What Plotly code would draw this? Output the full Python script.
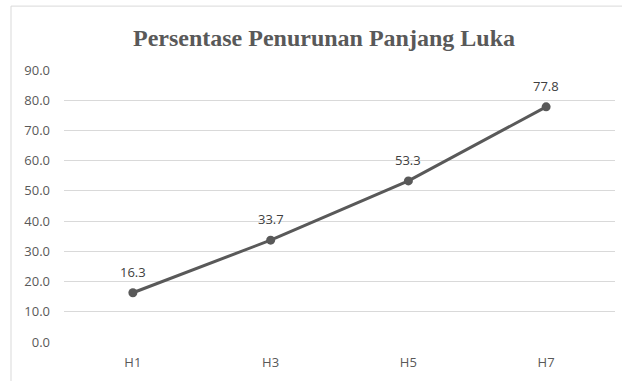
import plotly.graph_objects as go

categories = ["H1", "H3", "H5", "H7"]
values = [16.3, 33.7, 53.3, 77.8]
value_labels = ["16.3", "33.7", "53.3", "77.8"]
y_ticks = [0, 10, 20, 30, 40, 50, 60, 70, 80, 90]
y_tick_labels = ["0.0", "10.0", "20.0", "30.0", "40.0", "50.0", "60.0", "70.0", "80.0", "90.0"]
title = "Persentase Penurunan Panjang Luka"

W, H = 622, 381
L, R, T, B = 64, 7, 70, 38.5
pw = W - L - R
ph = H - T - B
FONT = "Open Sans, Noto Sans, sans-serif"

fig = go.Figure()
fig.add_trace(go.Scatter(
    x=categories, y=values, mode="lines+markers",
    line=dict(color="#595959", width=3),
    marker=dict(color="#595959", size=9),
    cliponaxis=False, hoverinfo="skip",
))

annotations = [
    dict(x=c, y=v, text=t, showarrow=False, yshift=21, xanchor="center", yanchor="middle",
         font=dict(family=FONT, size=13, color="#404040"))
    for c, v, t in zip(categories, values, value_labels)
]

fig.update_layout(
    width=W, height=H,
    margin=dict(l=L, r=R, t=T, b=B),
    paper_bgcolor="white", plot_bgcolor="white",
    showlegend=False,
    annotations=annotations,
    title=dict(text="<b>" + title + "</b>", x=(324 - L) / pw, xref="paper", xanchor="center",
               y=1 - 38 / H, yanchor="middle",
               font=dict(family="Liberation Serif, Times New Roman, serif", size=24, color="#595959")),
    xaxis=dict(type="category", range=[-0.5, 3.5], showgrid=False, zeroline=False,
               showline=False, ticks="", ticklabelstandoff=11,
               tickfont=dict(family=FONT, size=13, color="#595959")),
    yaxis=dict(range=[0, 90], tickvals=y_ticks, ticktext=y_tick_labels,
               showgrid=True, gridcolor="#d9d9d9", gridwidth=1, zeroline=False,
               showline=False, ticks="", ticklabelstandoff=13,
               tickfont=dict(family=FONT, size=13, color="#595959")),
    shapes=[dict(type="rect", xref="paper", yref="paper",
                 x0=(11 - L) / pw, x1=(W + 5 - L) / pw,
                 y0=-(H + 5 - T - ph) / ph, y1=1 + (T - 6) / ph,
                 line=dict(color="#d9d9d9", width=1), fillcolor="rgba(0,0,0,0)", layer="below")],
)

fig.write_html("out.html")
